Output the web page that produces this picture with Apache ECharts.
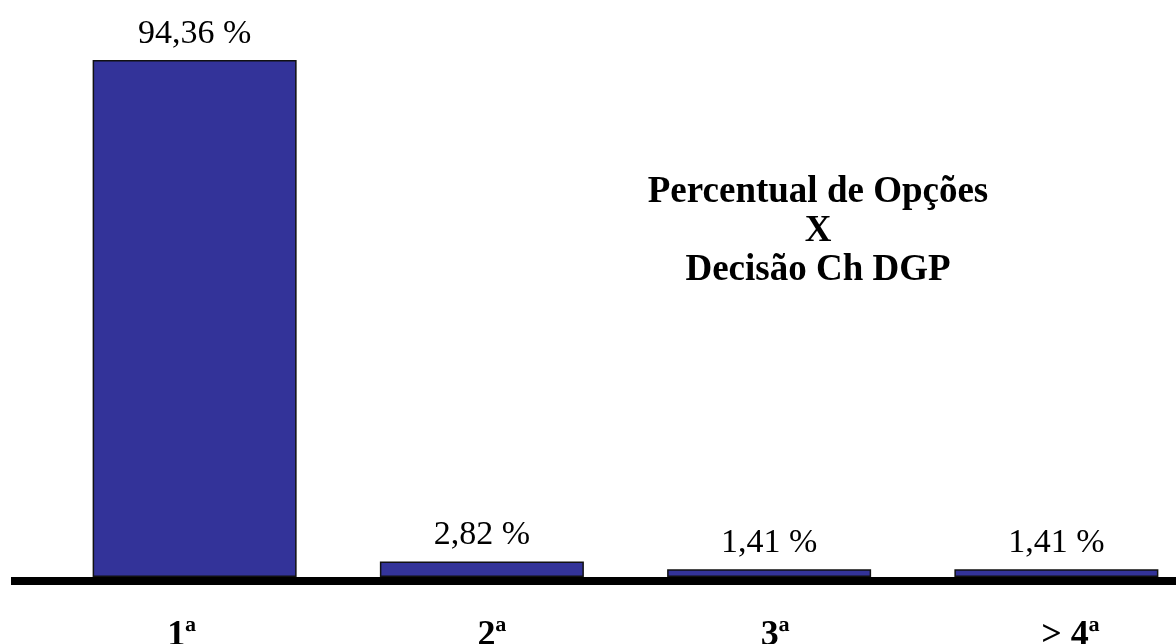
<!DOCTYPE html>
<html>
<head>
<meta charset="utf-8">
<script src="https://cdn.jsdelivr.net/npm/echarts@6/dist/echarts.min.js"></script>
<style>
html,body{margin:0;padding:0;background:#fff;}
#c{width:1176px;height:644px;}
</style>
</head>
<body>
<div id="c"></div>
<script>
var categories = ['1ª', '2ª', '3ª', '> 4ª'];
var values = [94.36, 2.82, 1.41, 1.41];
var titleLines = ['Percentual de Opções', 'X', 'Decisão Ch DGP'];

var serif = '"Liberation Serif", "Times New Roman", serif';
// per-label horizontal padding (style only)
var labelPads = [[0, 26, 0, 0], [0, 0, 0, 20], [0, 0, 0, 12], [0, 0, 0, 28]];

var chart = echarts.init(document.getElementById('c'));

var option = {
  backgroundColor: '#ffffff',
  animation: false,
  title: {
    text: titleLines.join('\n'),
    left: 818,
    top: 173,
    padding: 0,
    textAlign: 'center',
    textStyle: {
      fontFamily: serif,
      fontSize: 37,
      fontWeight: 'bold',
      color: '#000',
      lineHeight: 39
    }
  },
  grid: { left: 51, right: -24, top: 60, bottom: 67, containLabel: false, outerBoundsMode: 'none' },
  xAxis: {
    type: 'category',
    data: categories.map(function (c, i) {
      return { value: c, textStyle: { padding: labelPads[i] } };
    }),
    axisLine: { show: false },
    axisTick: { show: false },
    axisLabel: {
      margin: 41,
      fontFamily: serif,
      fontSize: 36,
      fontWeight: 'bold',
      color: '#000'
    }
  },
  yAxis: {
    type: 'value',
    min: 0,
    max: 'dataMax',
    show: false,
    splitLine: { show: false }
  },
  series: [{
    type: 'bar',
    data: values,
    barWidth: 204,
    itemStyle: { color: '#333399', borderColor: '#111111', borderWidth: 1.5 },
    label: {
      show: true,
      position: 'top',
      distance: 9,
      fontFamily: serif,
      fontSize: 34,
      color: '#000',
      formatter: function (p) { return p.value.toFixed(2).replace('.', ',') + ' %'; }
    }
  }]
};
chart.setOption(option);

var y0 = chart.convertToPixel({ yAxisIndex: 0 }, 0);
chart.setOption({
  graphic: [{
    type: 'rect',
    z: 10,
    shape: { x: 11, y: y0, width: 1176 - 11, height: 8 },
    style: { fill: '#000' }
  }]
});
</script>
</body>
</html>
